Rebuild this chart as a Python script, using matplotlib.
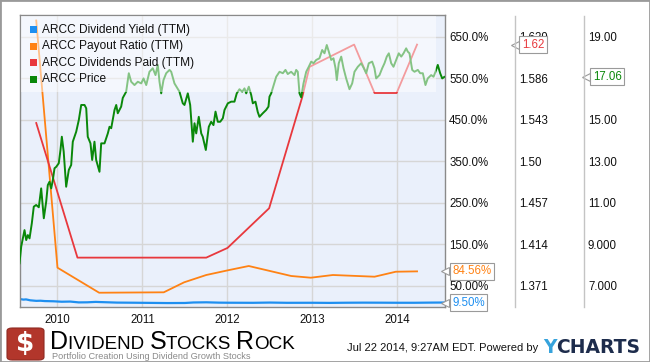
import numpy as np
import matplotlib
matplotlib.use('Agg')
import matplotlib.pyplot as plt
from matplotlib.patches import Rectangle, FancyBboxPatch
from matplotlib.lines import Line2D
from matplotlib.transforms import blended_transform_factory, offset_copy

plt.rcParams['font.family'] = ['Liberation Sans', 'DejaVu Sans']

# ---- data (x in decimal years) ----
price_years = [
    2009.553, 2009.573, 2009.612, 2009.632, 2009.651, 2009.671, 2009.698, 2009.721, 2009.749, 2009.780,
    2009.808, 2009.839, 2009.867, 2009.886, 2009.906, 2009.926, 2009.945, 2009.965, 2009.985, 2010.015,
    2010.035, 2010.051, 2010.073, 2010.102, 2010.133, 2010.161, 2010.180, 2010.220, 2010.251, 2010.279,
    2010.318, 2010.338, 2010.356, 2010.388, 2010.408, 2010.435, 2010.455, 2010.494, 2010.514, 2010.553,
    2010.592, 2010.612, 2010.632, 2010.671, 2010.691, 2010.709, 2010.749, 2010.768, 2010.808, 2010.839,
    2010.867, 2010.906, 2010.945, 2010.985, 2011.012, 2011.044, 2011.082, 2011.121, 2011.153, 2011.180,
    2011.200, 2011.220, 2011.247, 2011.279, 2011.318, 2011.338, 2011.376, 2011.435, 2011.474, 2011.494,
    2011.533, 2011.561, 2011.592, 2011.612, 2011.632, 2011.662, 2011.691, 2011.709, 2011.745, 2011.780,
    2011.808, 2011.835, 2011.859, 2011.886, 2011.914, 2011.945, 2011.965, 2012.004, 2012.044, 2012.082,
    2012.109, 2012.141, 2012.173, 2012.200, 2012.220, 2012.251, 2012.279, 2012.298, 2012.329, 2012.356,
    2012.376, 2012.415, 2012.455, 2012.482, 2012.494, 2012.514, 2012.533, 2012.573, 2012.612, 2012.651,
    2012.682, 2012.709, 2012.749, 2012.788, 2012.808, 2012.827, 2012.847, 2012.867, 2012.894, 2012.926,
    2012.956, 2012.985, 2013.012, 2013.044, 2013.082, 2013.114, 2013.141, 2013.168, 2013.192, 2013.220,
    2013.247, 2013.271, 2013.286, 2013.309, 2013.338, 2013.365, 2013.396, 2013.435, 2013.467, 2013.494,
    2013.533, 2013.573, 2013.604, 2013.632, 2013.662, 2013.702, 2013.729, 2013.749, 2013.788, 2013.820,
    2013.847, 2013.874, 2013.898, 2013.926, 2013.953, 2013.985, 2014.015, 2014.044, 2014.071, 2014.102,
    2014.121, 2014.141, 2014.173, 2014.200, 2014.239, 2014.267, 2014.298, 2014.329, 2014.356, 2014.396,
    2014.424, 2014.447, 2014.474, 2014.502, 2014.526, 2014.550,
]
price_vals = [
    8.08, 8.88, 9.68, 9.20, 9.44, 9.28, 10.01, 10.81, 10.89, 10.78,
    11.69, 10.25, 11.05, 11.85, 12.01, 11.69, 12.09, 12.66, 12.73, 12.90,
    13.54, 14.18, 13.46, 11.77, 12.58, 12.82, 13.94, 14.42, 14.99, 15.71,
    15.71, 15.55, 14.18, 13.86, 13.06, 13.94, 13.06, 12.49, 13.86, 13.86,
    14.34, 14.66, 14.59, 15.47, 15.71, 15.31, 15.63, 16.05, 16.35, 17.24,
    16.83, 16.67, 16.83, 16.75, 16.99, 16.67, 17.31, 17.48, 17.15, 17.64,
    16.83, 16.27, 16.91, 17.24, 17.40, 17.31, 16.75, 16.35, 15.79, 15.71,
    16.27, 15.71, 13.94, 14.83, 14.34, 15.14, 14.34, 14.18, 13.54, 14.66,
    14.90, 14.74, 15.39, 14.90, 14.90, 15.07, 15.47, 15.79, 15.87, 15.87,
    16.27, 16.47, 16.35, 16.51, 16.27, 16.59, 16.19, 15.79, 15.87, 15.37,
    15.14, 15.31, 15.47, 15.63, 16.11, 16.27, 16.53, 17.07, 17.31, 17.24,
    17.40, 17.20, 17.31, 17.15, 17.40, 17.31, 16.27, 16.08, 16.75, 17.31,
    17.55, 17.80, 17.72, 17.88, 17.96, 18.36, 18.20, 18.60, 18.28, 17.88,
    17.96, 17.48, 16.91, 17.72, 18.04, 17.48, 16.99, 16.47, 16.75, 17.31,
    17.55, 17.72, 17.48, 17.24, 17.72, 17.80, 17.48, 16.99, 17.15, 17.48,
    17.72, 18.04, 18.20, 17.72, 17.55, 17.88, 18.20, 18.04, 18.20, 18.44,
    18.28, 18.20, 17.40, 17.31, 17.40, 17.24, 17.24, 16.67, 16.99, 17.15,
    17.07, 17.31, 17.64, 17.24, 16.99, 17.06,
]

payout_years = [2009.75, 2010.0, 2010.49, 2011.25, 2011.49, 2011.75, 2012.02,
                2012.25, 2012.75, 2012.98, 2013.24, 2013.73, 2013.98, 2014.23]
payout_vals = [689.0, 93.4, 33.1, 34.1, 58.2, 75.8, 87.8,
               97.5, 73.4, 69.3, 75.8, 71.7, 83.7, 84.56]

divs_years = [2009.75, 2010.235, 2011.75, 2012.0, 2012.49, 2012.88, 2012.965,
              2013.49, 2013.73, 2013.99, 2014.23]
divs_vals = [1.539, 1.400, 1.400, 1.410, 1.451, 1.566, 1.597,
             1.620, 1.570, 1.570, 1.620]

yield_years = [2009.55, 2009.60, 2009.63, 2009.68, 2009.75, 2009.80, 2009.85, 2009.95, 2010.05,
               2010.15, 2010.25, 2010.35, 2010.45, 2010.50, 2010.70, 2010.90, 2011.10, 2011.30,
               2011.50, 2011.60, 2011.75, 2011.90, 2012.00, 2012.30, 2012.50, 2012.70, 2013.00,
               2013.20, 2013.40, 2013.60, 2013.80, 2014.00, 2014.20, 2014.40, 2014.55]
yield_vals = [18.0, 16.5, 17.0, 14.8, 13.5, 13.8, 13.0, 12.5, 11.4,
              11.8, 9.8, 10.0, 11.0, 10.6, 9.3, 9.0, 8.6, 8.2,
              8.4, 9.6, 10.0, 9.2, 9.0, 8.8, 9.4, 8.8, 8.9,
              8.6, 9.0, 9.2, 9.1, 8.9, 8.9, 9.3, 9.5]

year_ticks = [2010, 2011, 2012, 2013, 2014]
pct_ticks = [50, 150, 250, 350, 450, 550, 650]
pct_labels = ['50.00%', '150.0%', '250.0%', '350.0%', '450.0%', '550.0%', '650.0%']
div_labels = ['1.371', '1.414', '1.457', '1.50', '1.543', '1.586', '1.629']
# 17.00 sits under the 17.06 flag in the original, so it is not shown
price_labels = ['7.000', '9.000', '11.00', '13.00', '15.00', '', '19.00']

legend_names = ['ARCC Dividend Yield (TTM)', 'ARCC Payout Ratio (TTM)',
                'ARCC Dividends Paid (TTM)', 'ARCC Price']

BLUE = '#1e8ff0'
ORANGE = '#ff8214'
RED = '#e8383d'
GREEN = '#0a880a'

W, H = 650.0, 362.0
def fx(px):
    return px / W
def fy(py):
    return 1 - py / H

fig = plt.figure(figsize=(6.5, 3.62), dpi=100)
fig.patch.set_facecolor('white')

ax = fig.add_axes([fx(19.5), fy(307), fx(444.5) - fx(19.5), fy(15) - fy(307)])
ax.set_facecolor('#eaf0fb')
ax.set_xlim(2009.553, 2014.553)
ax.set_ylim(-1.3, 702.3)

# secondary scales share the same gridline positions
def pct_to_div(p):
    return 1.371 + (p - 50) * 0.042857 / 100
def pct_to_price(p):
    return 7.0 + (p - 50) / 50.0

ax2 = ax.twinx()
ax2.set_ylim(pct_to_div(-1.3), pct_to_div(702.3))
ax3 = ax.twinx()
ax3.set_ylim(pct_to_price(-1.3), pct_to_price(702.3))

ax.set_xticks(year_ticks)
ax.set_xticklabels([str(y) for y in year_ticks])
ax.set_yticks(pct_ticks)
ax.set_yticklabels(pct_labels)
ax.yaxis.tick_right()
ax.tick_params(axis='both', length=0, labelsize=8.3, colors='#111111')
ax.tick_params(axis='y', pad=3.3)
ax.tick_params(axis='x', pad=5)
ax.grid(True, color='#d6d6d6', lw=1)
ax.set_axisbelow(True)
for s in ax.spines.values():
    s.set_color('#8a8a8a')
    s.set_linewidth(1)

ax2.set_yticks([pct_to_div(p) for p in pct_ticks])
ax2.set_yticklabels(div_labels)
ax2.tick_params(axis='y', length=0, pad=53.6, labelsize=8.3, colors='#111111')
ax3.set_yticks([pct_to_price(p) for p in pct_ticks])
ax3.set_yticklabels(price_labels)
ax3.tick_params(axis='y', length=0, pad=103.3, labelsize=8.3, colors='#111111')
for a in (ax2, ax3):
    for s in a.spines.values():
        s.set_visible(False)

ax.plot(yield_years, yield_vals, color=BLUE, lw=1.6)
ax.plot(payout_years, payout_vals, color=ORANGE, lw=1.3)
ax2.plot(divs_years, divs_vals, color=RED, lw=1.3)
ax3.plot(price_years, price_vals, color=GREEN, lw=1.4)

# end value flags
def flag(a, val, txt, color, off):
    tr = blended_transform_factory(a.transAxes, a.transData)
    a.plot([1], [val], marker='<', ms=6, mfc='white', mec='#9a9a9a', mew=0.8,
           transform=offset_copy(tr, fig=fig, x=off - 2.6, units='points'),
           clip_on=False, zorder=5)
    a.annotate(txt, xy=(1, val), xycoords=tr, xytext=(off + 2.2, 0),
               textcoords='offset points', va='center', ha='left', fontsize=8.3,
               color=color, annotation_clip=False, zorder=6,
               bbox=dict(boxstyle='square,pad=0.22', fc='white', ec='#9a9a9a', lw=0.8))

flag(ax, 84.56, '84.56%', ORANGE, 3.3)
flag(ax, 9.5, '9.50%', BLUE, 3.3)
flag(ax2, 1.62, '1.62', RED, 53.6)
flag(ax3, 17.06, '17.06', GREEN, 104.5)

# legend backdrop
fig.patches.append(Rectangle((fx(20.5), fy(92)), fx(436) - fx(20.5), fy(15.6) - fy(92),
                             transform=fig.transFigure, fc='white', alpha=0.5,
                             ec='none', zorder=1))
for i, (name, c) in enumerate(zip(legend_names, [BLUE, ORANGE, RED, GREEN])):
    yc = 29.5 + i * 16.6
    fig.patches.append(Rectangle((fx(30), fy(yc + 3.5)), fx(7), 7 / H,
                                 transform=fig.transFigure, fc=c, ec='none', zorder=2))
    fig.text(fx(42), fy(yc), name, fontsize=8.6, color='#111111', va='center', ha='left')

# column separators
for xs in (514.5, 584):
    fig.add_artist(Line2D([fx(xs), fx(xs)], [fy(15.5), fy(307)], color='#c4c4c4', lw=1))

# footer: logo
fig.patches.append(FancyBboxPatch((fx(7), fy(360)), fx(37), 32 / H,
                                  boxstyle='round,pad=0,rounding_size=0.008',
                                  transform=fig.transFigure, fc='#b2362b', ec='#8e2a22',
                                  lw=0.8, zorder=1))
fig.text(fx(25.5), fy(344), '$', fontsize=19, fontweight='bold', color='white',
         ha='center', va='center', family='DejaVu Sans')


def run_text(x0, ybase, pieces):
    # place text pieces one after another on a common baseline
    x = x0
    for s, sz, kw in pieces:
        t = fig.text(fx(x), fy(ybase), s, fontsize=sz, va='baseline', ha='left', **kw)
        fig.canvas.draw()
        bb = t.get_window_extent()
        x = bb.x1


black = dict(color='black')
run_text(50, 349, [('D', 18, black), ('IVIDEND ', 13.6, black), ('S', 18, black),
                   ('TOCKS ', 13.6, black), ('R', 18, black), ('OCK', 13.6, black)])

fig.text(fx(52), fy(359), 'Portfolio Creation Using Dividend Growth Stocks',
         fontsize=6.6, color='#8a8a8a', va='baseline', ha='left')

fig.text(fx(538), fy(348), 'Jul 22 2014, 9:27AM EDT. Powered by', fontsize=8.0,
         color='#111111', va='center', ha='right')

run_text(543, 353, [('Y', 13.5, dict(color='#36a3dc', fontweight='bold', family='DejaVu Sans')),
                    ('CHARTS', 13.5, dict(color='#1d2c4c', fontweight='bold', family='DejaVu Sans'))])

fig.add_artist(Rectangle((0, 0), 1, 1, transform=fig.transFigure, fill=False,
                         ec='#9a9a9a', lw=2))

fig.savefig('out.png', dpi=100)
